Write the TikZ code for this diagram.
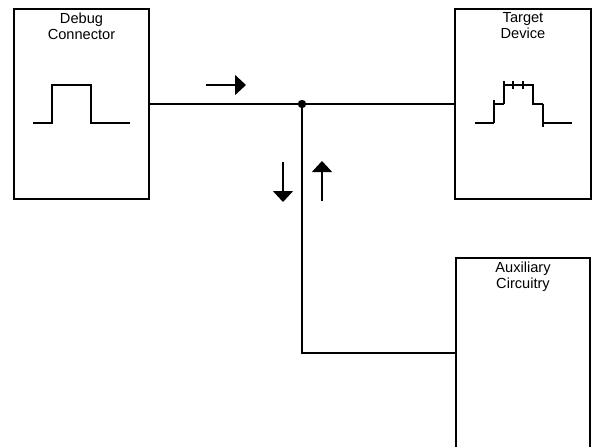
\documentclass[tikz,border=0pt]{standalone}
\usepackage{fontspec}
\setmainfont{Liberation Sans}
\usetikzlibrary{arrows.meta}
\begin{document}
\begin{tikzpicture}[x=1pt,y=-1pt,
  box/.style={draw,line width=1.5pt,rectangle,inner sep=0pt},
  lbl/.style={anchor=north,align=center,inner sep=0pt,font=\fontsize{14.6}{16.2}\selectfont},
  wire/.style={line width=1.5pt},
  wave/.style={line width=2pt},
  flow/.style={line width=1.5pt,-{Triangle[length=11pt,width=20pt]}}]
\useasboundingbox (0,0) rectangle (592,447);
\clip (0,0) rectangle (592,447);
% boxes
\node[box,minimum width=135pt,minimum height=190pt] (dbg) at (81.5,104) {};
\node[box,minimum width=136pt,minimum height=190pt] (tgt) at (523,104) {};
\node[box,minimum width=134pt,minimum height=220pt] (aux) at (523,368) {};
% labels
\node[lbl] (dbgt) at ([yshift=-4pt]dbg.north) {Debug\\Connector};
\node[lbl] (tgtt) at ([yshift=-4pt]tgt.north) {Target\\Device};
\node[lbl] (auxt) at ([yshift=-4pt]aux.north) {Auxiliary\\Circuitry};
% wires
\coordinate (j) at (302,104);
\coordinate (bend) at (302,353);
\draw[wire] (dbg.east) -- (j) -- (tgt.west);
\draw[wire] (j) -- (bend) -- (bend -| aux.west);
\fill (j) circle (4.2pt);
% flow arrows
\coordinate (ra1) at (206,85); \coordinate (ra2) at (246,85);
\coordinate (da1) at (283,162); \coordinate (da2) at (283,202);
\coordinate (ua1) at (322,201); \coordinate (ua2) at (322,161);
\draw[flow] (ra1) -- (ra2);
\draw[flow] (da1) -- (da2);
\draw[flow] (ua1) -- (ua2);
% debug pulse
\draw[wave] (33,123) -- (52,123) -- (52,85) -- (91,85) -- (91,123) -- (130,123);
% target waveform
\draw[wave] (475,123) -- (494,123);
\draw[wave] (494,100) -- (494,123);
\draw[wave] (494,104) -- (504,104);
\draw[wave] (504,81) -- (504,104);
\draw[wave] (504,85) -- (533,85) -- (533,104) -- (543,104);
\draw[wave] (543,104) -- (543,127);
\draw[wave] (543,123) -- (572,123);
\draw[line width=1.5pt] (513,81) -- (513,89);
\draw[line width=1.5pt] (523,81) -- (523,89);
\end{tikzpicture}
\end{document}
